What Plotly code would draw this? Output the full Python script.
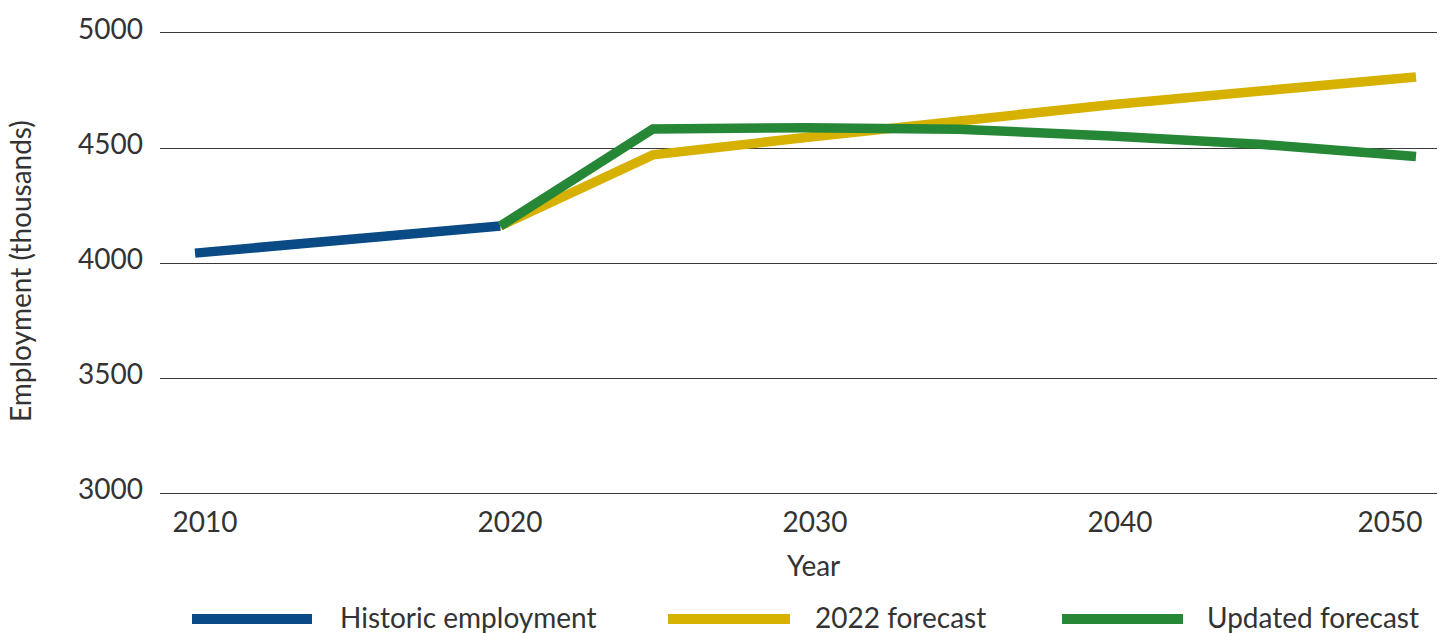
import plotly.graph_objects as go

# Data
hist_years = [2010, 2020]
hist_values = [4043, 4161]

years_fc = [2020, 2025, 2030, 2035, 2040, 2045, 2050]
forecast_2022 = [4161, 4470, 4546, 4622, 4688, 4749, 4809]
forecast_updated = [4161, 4583, 4588, 4582, 4552, 4515, 4463]

series_names = ["Historic employment", "2022 forecast", "Updated forecast"]
series_colors = ["#0a4a85", "#d7b100", "#268736"]

y_ticks = [3000, 3500, 4000, 4500, 5000]
x_tick_labels = ["2010", "2020", "2030", "2040", "2050"]

# label placement (style): the source chart's year labels sit slightly off the data years
x_label_pos = [2010.33, 2020.32, 2030.31, 2040.30, 2049.15]

FONT = "Lato"
TXT = "#333333"
FS = 28
LW = 9.5

fig = go.Figure()
fig.add_trace(go.Scatter(x=hist_years, y=hist_values, mode="lines", name=series_names[0],
                         line=dict(color=series_colors[0], width=LW), showlegend=False))
fig.add_trace(go.Scatter(x=years_fc, y=forecast_2022, mode="lines", name=series_names[1],
                         line=dict(color=series_colors[1], width=LW), showlegend=False))
fig.add_trace(go.Scatter(x=years_fc, y=forecast_updated, mode="lines", name=series_names[2],
                         line=dict(color=series_colors[2], width=LW), showlegend=False))

W, H = 1453, 633
ml, mr, mt, mb = 160, 16, 33, 140
pw, ph = W - ml - mr, H - mt - mb

def px_x(p):
    return (p - ml) / pw

def px_y(p):
    return (H - mb - p) / ph

# Custom legend (long line samples)
legend_samples = [(192, 312, 340), (668, 790, 815), (1062, 1183, 1207)]
ly = 619
for (x0, x1, tx), name, col in zip(legend_samples, series_names, series_colors):
    fig.add_shape(type="line", xref="paper", yref="paper",
                  x0=px_x(x0), x1=px_x(x1), y0=px_y(ly), y1=px_y(ly),
                  line=dict(color=col, width=10))
    fig.add_annotation(xref="paper", yref="paper", x=px_x(tx - 1), y=px_y(ly - 2),
                       text=name, showarrow=False, xanchor="left", yanchor="middle",
                       borderpad=0, font=dict(family=FONT, size=FS, color=TXT))

fig.add_annotation(xref="paper", yref="paper", x=px_x(813), y=px_y(565),
                   text="Year", showarrow=False, xanchor="center", yanchor="middle",
                   borderpad=0, font=dict(family=FONT, size=FS, color=TXT))

fig.add_annotation(xref="paper", yref="paper", x=px_x(20), y=px_y(271),
                   text="Employment (thousands)", showarrow=False, textangle=-90,
                   xanchor="center", yanchor="middle", borderpad=0,
                   font=dict(family=FONT, size=FS, color=TXT))

fig.update_layout(
    width=W, height=H,
    margin=dict(l=ml, r=mr, t=mt, b=mb),
    paper_bgcolor="white", plot_bgcolor="white",
    font=dict(family=FONT, size=FS, color=TXT),
    showlegend=False,
    xaxis=dict(range=[2008.853, 2050.688], tickvals=x_label_pos, ticktext=x_tick_labels,
               showgrid=False, zeroline=False, showline=True, mirror=True,
               linecolor="#3a3a3a", linewidth=1, ticks="",
               ticklabelstandoff=4,
               tickfont=dict(family=FONT, size=FS, color=TXT)),
    yaxis=dict(range=[3000, 5000], tickvals=y_ticks, showgrid=True, gridcolor="#3a3a3a",
               gridwidth=1, zeroline=False, showline=False, ticks="",
               ticklabelstandoff=16, ticklabelshift=-4,
               tickfont=dict(family=FONT, size=FS, color=TXT)),
)

fig.write_html("out.html")
